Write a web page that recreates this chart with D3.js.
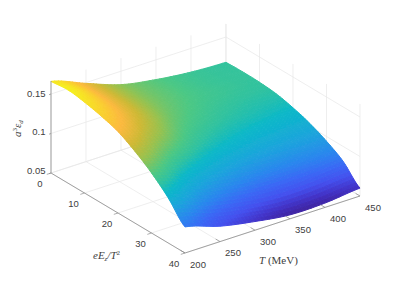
<!DOCTYPE html>
<html><head><meta charset="utf-8">
<script src="https://d3js.org/d3.v7.min.js"></script>
<style>html,body{margin:0;padding:0;background:#fff}svg{display:block}</style></head>
<body><svg id="c" width="399" height="285"></svg>
<script>
// Data
const temps = [200, 250, 300, 350, 400, 450];
const fields = [0, 5, 10, 15, 20, 25, 30, 35, 40];
// rows: T, columns: eEz/T^2
const z200 = [0.166, 0.168, 0.165, 0.160, 0.153, 0.141, 0.126, 0.107, 0.083];
const z250 = [0.149, 0.149, 0.148, 0.145, 0.138, 0.126, 0.110, 0.091, 0.0695];
const z300 = [0.133, 0.133, 0.132, 0.129, 0.123, 0.114, 0.100, 0.081, 0.061];
const z350 = [0.125, 0.125, 0.124, 0.121, 0.116, 0.108, 0.095, 0.077, 0.055];
const z400 = [0.120, 0.120, 0.120, 0.117, 0.113, 0.105, 0.094, 0.078, 0.0555];
const z450 = [0.118, 0.1185, 0.118, 0.116, 0.111, 0.104, 0.094, 0.081, 0.060];
const zRows = [z200, z250, z300, z350, z400, z450];
const tTicks = [200, 250, 300, 350, 400, 450];
const eTicks = [0, 10, 20, 30, 40];
const zTicks = [0.05, 0.1, 0.15];
const zTickLabels = ["0.05", "0.1", "0.15"];
const colorPos = [0, 0.07, 0.14, 0.22, 0.3, 0.4, 0.5, 0.56, 0.62, 0.71, 0.79, 0.87, 0.94, 1];
const colorStops = ["#3d1f96","#4233c8","#4450ee","#3a68f5","#2a86ee","#1ca4dc","#0bb8c8","#30c2a0","#4cc884","#96c250","#cdb935","#fcb93f","#f9d52c","#f5f01e"];

const svg = d3.select("#c");
const flt = svg.append("defs").append("filter").attr("id","soft").attr("x","-5%").attr("y","-5%").attr("width","110%").attr("height","110%");
flt.append("feGaussianBlur").attr("stdDeviation",0.35);
// Projection through linear scales
const tx = d3.scaleLinear().domain([200,450]).range([0,175]);
const ty = d3.scaleLinear().domain([200,450]).range([0,-57]);
const ex = d3.scaleLinear().domain([0,40]).range([0,134]);
const ey = d3.scaleLinear().domain([0,40]).range([0,80]);
const zy = d3.scaleLinear().domain([0.05,0.15]).range([0,-79]);
const zTop = 0.1665;
const P = (t,e,z)=>[51+tx(t)+ex(e), 173+ty(t)+ey(e)+zy(z)];
const line = (a,b,col,w)=>svg.append("line").attr("x1",a[0]).attr("y1",a[1]).attr("x2",b[0]).attr("y2",b[1]).attr("stroke",col).attr("stroke-width",w);

// grid
const gridCol="#e6e6e6";
tTicks.forEach(t=>{ line(P(t,0,0.05),P(t,40,0.05),gridCol,0.7); line(P(t,0,0.05),P(t,0,zTop),gridCol,0.7); });
eTicks.forEach(e=>{ line(P(200,e,0.05),P(450,e,0.05),gridCol,0.7); line(P(450,e,0.05),P(450,e,zTop),gridCol,0.7); });
zTicks.forEach(z=>{ line(P(200,0,z),P(450,0,z),gridCol,0.7); line(P(450,0,z),P(450,40,z),gridCol,0.7); });

// surface
const zLo=0.053, zHi=0.168;
const color = d3.scaleLinear().domain(colorPos.map(f=>zLo+(zHi-zLo)*f)).range(colorStops).clamp(true);
const cr=(p0,p1,p2,p3,u)=>0.5*((2*p1)+(-p0+p2)*u+(2*p0-5*p1+4*p2-p3)*u*u+(-p0+3*p1-3*p2+p3)*u*u*u);
function sample(arr,f){const n=arr.length-1;const i=Math.min(Math.floor(f*n),n-1);const u=f*n-i;
  return cr(arr[Math.max(i-1,0)],arr[i],arr[i+1],arr[Math.min(i+2,n)],u);}
const NT=50,NE=64;
const tFrac=d3.scaleLinear().domain([200,450]).range([0,1]);
function zAt(t,e){const ef=e/40;const col=zRows.map(r=>sample(r,ef));return sample(col,tFrac(t));}
const tStep=250/NT,eStep=40/NE;
const g=svg.append("g").attr("filter","url(#soft)");
const cells=[];
for(let i=NT-1;i>=0;i--)for(let j=0;j<NE;j++){
  const t0=200+i*tStep,t1=t0+tStep,e0=j*eStep,e1=e0+eStep;
  const c=[[t0,e0],[t1,e0],[t1,e1],[t0,e1]].map(([t,e])=>[t,e,zAt(t,e)]);
  cells.push(c);
}
g.selectAll("path").data(cells).join("path")
 .attr("d",c=>"M"+c.map(p=>P(p[0],p[1],p[2]).map(v=>v.toFixed(2)).join(",")).join("L")+"Z")
 .attr("fill",c=>color(d3.mean(c,p=>p[2])))
 .attr("stroke",c=>color(d3.mean(c,p=>p[2])))
 .attr("stroke-width",1)
 .attr("stroke-linejoin","round");

// axes
const axCol="#8c8c8c";
line(P(200,0,0.05),P(200,40,0.05),axCol,0.8);
line(P(200,40,0.05),P(450,40,0.05),axCol,0.8);
line(P(200,0,0.05),P(200,0,zTop),axCol,0.8);
tTicks.forEach(t=>{const a=P(t,40,0.05);line(a,P(t,38.7,0.05),axCol,0.7);});
eTicks.forEach(e=>{const a=P(200,e,0.05);line(a,P(194,e,0.05),axCol,0.7);});
zTicks.forEach(z=>{const a=P(200,0,z);line(a,[a[0]-2,a[1]+0.7],axCol,0.7);});

const sans="Helvetica, 'Liberation Sans', Arial, sans-serif", col="#404040", fs=9.5;
const text=(x,y,s,anchor)=>svg.append("text").attr("x",x).attr("y",y).attr("text-anchor",anchor||"middle").attr("font-family",sans).attr("font-size",fs).attr("fill",col).text(s);
tTicks.forEach(t=>{const a=P(t,40,0.05);text(a[0]+13,a[1]+14.5,t);});
eTicks.forEach(e=>{const a=P(200,e,0.05);text(a[0]-11,a[1]+13.5,e);});
zTicks.forEach((z,i)=>{const a=P(200,0,z);text(a[0]-5.5,a[1]+(i===2?3:i===1?1.5:0.5),zTickLabels[i],"end");});

// axis titles
const serif="'Liberation Serif','DejaVu Serif',serif";
const tl=svg.append("text").attr("x",259).attr("y",264).attr("font-family",serif).attr("font-size",11).attr("fill",col);
tl.append("tspan").attr("font-style","italic").text("T");
tl.append("tspan").text(" (MeV)");
const el=svg.append("text").attr("x",93).attr("y",259).attr("font-family",serif).attr("font-size",11).attr("fill",col).attr("font-style","italic");
el.append("tspan").text("eE");
el.append("tspan").attr("font-size",7).attr("dy",2).text("z");
el.append("tspan").attr("dy",-2).text("/T");
el.append("tspan").attr("font-size",7).attr("font-style","normal").attr("dy",-4).text("2");
const yl=svg.append("text").attr("transform","translate(21,137) rotate(-90)").attr("font-family",serif).attr("font-size",11).attr("fill",col).attr("font-style","italic");
yl.append("tspan").text("a");
yl.append("tspan").attr("font-size",7).attr("font-style","normal").attr("dy",-4).text("3");
yl.append("tspan").attr("dy",4).text("ε");
yl.append("tspan").attr("font-size",7).attr("dy",2).text("d");
</script></body></html>
